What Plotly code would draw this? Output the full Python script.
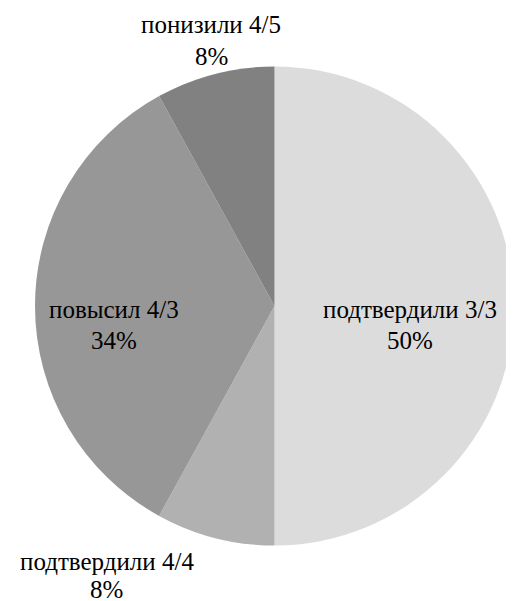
import plotly.graph_objects as go

labels = ["подтвердили 3/3", "подтвердили 4/4", "повысил 4/3", "понизили 4/5"]
values = [50, 8, 34, 8]
colors = ["#dcdcdc", "#b1b1b1", "#979797", "#818181"]

# page body has an 8px margin; figure is sized/positioned to compensate
OFF = 8
W, H = 514 - OFF, 601 - OFF

# label positions in page pixels: x center, y center of line 1 and line 2
label_px = [(410, 309, 340), (106.5, 561, 589), (113.5, 309, 340), (211, 25, 56)]

# pie circle in page pixels: left 35, right 514, top 66, bottom 546
ml, mt = 35 - OFF, 66 - OFF
mr = 0
mb = H - (546 - OFF)
pw, ph = W - ml - mr, H - mt - mb

FONT = "Liberation Serif, Times New Roman, serif"

fig = go.Figure()
fig.add_trace(go.Pie(
    labels=labels,
    values=values,
    sort=False,
    direction="clockwise",
    rotation=0,
    marker=dict(colors=colors, line=dict(width=0)),
    textinfo="none",
    hoverinfo="label+percent",
    showlegend=False,
    domain=dict(x=[0, 1], y=[0, 1]),
))


def px2paper(px, py):
    return (px - OFF - ml) / pw, (H - mb - (py - OFF)) / ph


# annotations are drawn above the pie layer
for lab, val, (px, py1, py2) in zip(labels, values, label_px):
    for txt, py in ((lab, py1), (f"{val}%", py2)):
        x, y = px2paper(px, py)
        fig.add_annotation(
            x=x, y=y, xref="paper", yref="paper",
            text=txt, showarrow=False,
            xanchor="center", yanchor="middle",
            font=dict(family=FONT, size=25, color="#000000"),
        )

fig.update_layout(
    width=W, height=H,
    margin=dict(l=ml, r=mr, t=mt, b=mb, pad=0),
    paper_bgcolor="white",
    plot_bgcolor="white",
    font=dict(family=FONT, size=25, color="#000000"),
)

fig.write_html("out.html")
